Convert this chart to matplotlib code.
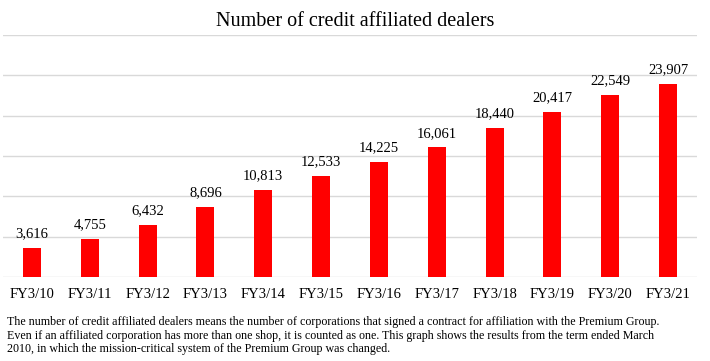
import matplotlib
matplotlib.use("Agg")
import matplotlib.pyplot as plt
import numpy as np

categories = ["FY3/10", "FY3/11", "FY3/12", "FY3/13", "FY3/14", "FY3/15",
              "FY3/16", "FY3/17", "FY3/18", "FY3/19", "FY3/20", "FY3/21"]
values = [3616, 4755, 6432, 8696, 10813, 12533, 14225, 16061, 18440, 20417, 22549, 23907]
yticks = [0, 5000, 10000, 15000, 20000, 25000, 30000]
title = "Number of credit affiliated dealers"
footnote = ("The number of credit affiliated dealers means the number of corporations that signed a contract for affiliation with the Premium Group.\n"
            "Even if an affiliated corporation has more than one shop, it is counted as one. This graph shows the results from the term ended March\n"
            "2010, in which the mission-critical system of the Premium Group was changed.")

plt.rcParams['font.family'] = ['Liberation Serif', 'DejaVu Serif']

W, H = 710, 361
fig = plt.figure(figsize=(W/100, H/100), dpi=100)
ax = fig.add_axes([3/W, 1-277/H, 694/W, (277-35)/H])

x = np.arange(len(categories))
ax.bar(x, values, width=0.31, color="#ff0000", zorder=3)
ax.set_xlim(-0.5, len(categories)-0.5)
ax.set_ylim(yticks[0], yticks[-1])
ax.set_yticks(yticks)
ax.yaxis.grid(True, color="#d9d9d9", linewidth=1, zorder=0)
ax.set_yticklabels([])
ax.tick_params(axis='y', length=0)
ax.tick_params(axis='x', length=0, pad=8, labelsize=10.5)
ax.set_xticks(x)
ax.set_xticklabels(categories)
for s in ax.spines.values():
    s.set_visible(False)

for xi, v in zip(x, values):
    ax.annotate(f"{v:,}", (xi, v), xytext=(0, 5.5), textcoords="offset points",
                ha="center", va="bottom", fontsize=10.5)

fig.text(0.5, 1-21/H, title, ha="center", va="center", fontsize=14.5)
fig.text(7/W, 1-316/H, footnote, ha="left", va="top", fontsize=8.65, linespacing=1.17)

fig.savefig("out.png", dpi=100)
